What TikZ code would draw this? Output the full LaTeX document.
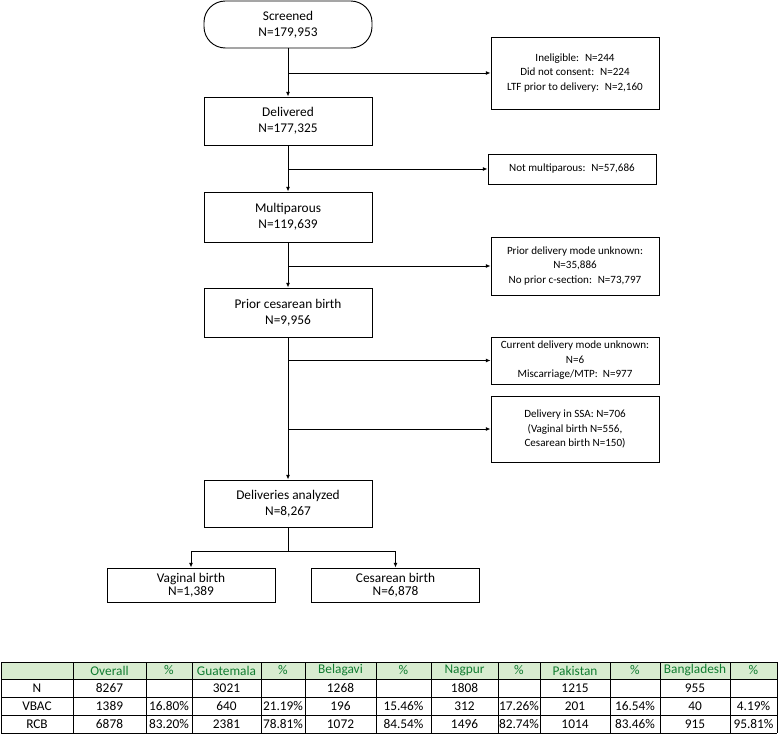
\documentclass[tikz,border=0pt]{standalone}
\usepackage{fontspec}
\setmainfont{Carlito}
\usepackage{tikz}
\usetikzlibrary{arrows.meta,positioning,calc}
\definecolor{hdrfill}{RGB}{216,236,208}
\definecolor{hdrtext}{RGB}{16,124,48}
\tikzset{
  flow/.style={draw, line width=0.7pt, align=center, minimum width=126pt, inner xsep=1pt, inner ysep=2pt, font=\fontsize{10}{12}\selectfont},
  side/.style={flow, font=\fontsize{8.3}{10.8}\selectfont},
  link/.style={line width=0.7pt, -{Latex[length=3.5pt,width=3pt]}},
  cell/.style={inner sep=0pt, font=\fontsize{10}{12}\selectfont},
}

\begin{document}
\begin{tikzpicture}[x=0.75pt,y=-0.75pt]
\useasboundingbox (0,0) rectangle (778,734);
% main column
\node[flow, rounded corners=16pt, minimum height=35.25pt] (scr) at (288,24.5) {Screened\\N=179,953};
\node[flow, minimum height=36pt] (dlv) at (288,121) {Delivered\\N=177,325};
\node[flow, minimum height=37.5pt] (mul) at (288,217) {Multiparous\\N=119,639};
\node[flow, minimum height=36.75pt] (pcb) at (288,312.5) {Prior cesarean birth\\N=9,956};
\node[flow, minimum height=35.25pt] (ana) at (288,503.5) {Deliveries analyzed\\N=8,267};
\node[flow, minimum height=25.5pt, font=\fontsize{10}{9.8}\selectfont] (vag) at (191,585) {Vaginal birth\\N=1,389};
\node[flow, minimum height=25.5pt, font=\fontsize{10}{9.8}\selectfont] (ces) at (395.5,585) {Cesarean birth\\N=6,878};
% exclusions
\node[side, minimum height=54pt] (ex1) at (575,73) {Ineligible:~ N=244\\Did not consent:~ N=224\\LTF prior to delivery:~ N=2,160};
\node[side, minimum height=22.5pt] (ex2) at (572,169) {Not multiparous:~ N=57,686};
\node[side, minimum height=43.5pt] (ex3) at (575,266) {Prior delivery mode unknown:\\N=35,886\\No prior c-section:~ N=73,797};
\node[side, minimum height=35.25pt] (ex4) at (575,360.5) {Current delivery mode unknown:\\N=6\\Miscarriage/MTP:~ N=977};
\node[side, minimum height=49.5pt] (ex5) at (575,429) {Delivery in SSA: N=706\\(Vaginal birth N=556,\\Cesarean birth N=150)};

\draw[link] (scr) -- (dlv);
\draw[link] (scr.south |- ex1.west) -- (ex1.west);
\draw[link] (dlv) -- (mul);
\draw[link] (dlv.south |- ex2.west) -- (ex2.west);
\draw[link] (mul) -- (pcb);
\draw[link] (mul.south |- ex3.west) -- (ex3.west);
\draw[link] (pcb) -- (ana);
\draw[link] (pcb.south |- ex4.west) -- (ex4.west);
\draw[link] (pcb.south |- ex5.west) -- (ex5.west);
\coordinate (split) at ($(ana.south)+(0,24)$);
\draw[line width=0.7pt] (ana) -- (split);
\draw[link] (split) -| (vag);
\draw[link] (split) -| (ces);

% table
\fill[hdrfill] (1,662) rectangle (777,679);
\foreach \y in {662,679,697,715,733}
  \draw[line width=0.7pt] (1,\y) -- (777,\y);
\foreach \x in {1,73,146,192,261,305,376,431,498,540,610,660,730,777}
  \draw[line width=0.7pt] (\x,662) -- (\x,733);
\foreach \xl/\xr/\hd/\nn/\vb/\rc in {1/73//N/VBAC/RCB, 73/146/Overall/8267/1389/6878,
    146/192/\%//16.80\%/83.20\%, 192/261/Guatemala/3021/640/2381, 261/305/\%//21.19\%/78.81\%,
    305/376/Belagavi/1268/196/1072, 376/431/\%//15.46\%/84.54\%, 431/498/Nagpur/1808/312/1496,
    498/540/\%//17.26\%/82.74\%, 540/610/Pakistan/1215/201/1014, 610/660/\%//16.54\%/83.46\%,
    660/730/Bangladesh/955/40/915, 730/777/\%//4.19\%/95.81\%}{
  \node[cell, text=hdrtext] (h\xl) at ({(\xl+\xr)/2},670.5) {\hd};
  \node[cell] (n\xl) at ({(\xl+\xr)/2},688) {\nn};
  \node[cell] (v\xl) at ({(\xl+\xr)/2},706) {\vb};
  \node[cell] (r\xl) at ({(\xl+\xr)/2},724) {\rc};
}
\end{tikzpicture}
\end{document}
